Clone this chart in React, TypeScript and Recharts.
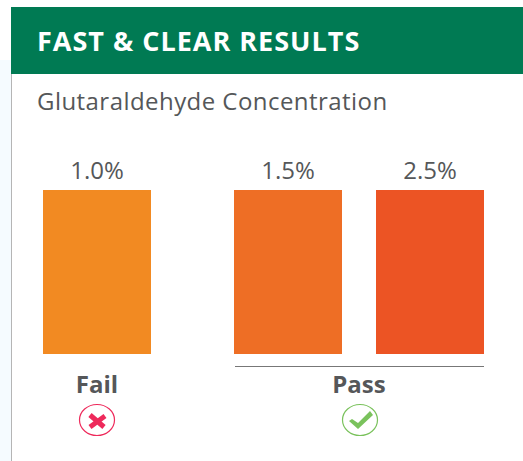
import React from 'react';
import { BarChart, Bar, Cell, LabelList, XAxis, YAxis } from 'recharts';

const failLevels = ['1.0%'];
const failValues = [100];
const failColors = ['#f28a22'];

const passLevels = ['1.5%', '2.5%'];
const passValues = [100, 100];
const passColors = ['#ee6e25', '#ec5424'];

const FONT = '"Open Sans", sans-serif';
const TEXT = '#555759';

const toRows = (levels: string[], values: number[]) =>
  levels.map((level, i) => ({ level, value: values[i] }));

interface GroupProps {
  levels: string[];
  values: number[];
  colors: string[];
  name: string;
  left: number;
  width: number;
}

const Group: React.FC<GroupProps> = ({ levels, values, colors, name, left, width }) => (
  <div style={{ position: 'absolute', left, top: 150 }}>
    <BarChart
      width={width}
      height={260}
      data={toRows(levels, values)}
      margin={{ top: 40, right: 0, bottom: 0, left: 0 }}
      barCategoryGap={0}
    >
      <YAxis hide domain={[0, 100]} />
      <XAxis
        dataKey="level"
        height={56}
        axisLine={false}
        tickLine={false}
        tick={false}
        label={{
          value: name,
          position: 'insideTop',
          offset: 22,
          fill: TEXT,
          fontSize: 24,
          fontWeight: 700,
          fontFamily: FONT,
        }}
      />
      <Bar dataKey="value" barSize={108} isAnimationActive={false}>
        {colors.map((c) => (
          <Cell key={c} fill={c} />
        ))}
        <LabelList
          dataKey="level"
          position="top"
          offset={11}
          fill={TEXT}
          fontSize={24}
          fontFamily={FONT}
        />
      </Bar>
    </BarChart>
  </div>
);

const FailIcon = () => (
  <svg width={40} height={36} style={{ position: 'absolute', left: 77, top: 402 }}>
    <ellipse cx={20} cy={18} rx={17.5} ry={15.5} fill="#fff" stroke="#ee2a5b" strokeWidth={1.2} />
    <path d="M13 13 L27 25 M28 14 L13 25" stroke="#ee2a5b" strokeWidth={5} fill="none" />
  </svg>
);

const PassIcon = () => (
  <svg width={40} height={36} style={{ position: 'absolute', left: 340, top: 402 }}>
    <ellipse cx={20} cy={18} rx={17.5} ry={15.5} fill="#fff" stroke="#7ac25c" strokeWidth={1.2} />
    <path d="M9 19 L12 17 L18 21 L30 9 L33 13 L18 27 Z" fill="#7ac25c" />
  </svg>
);

export default function App() {
  return (
    <div
      style={{
        position: 'absolute',
        left: 0,
        top: 0,
        width: 523,
        height: 461,
        overflow: 'hidden',
        background: '#fff',
        fontFamily: FONT,
      }}
    >
      <div style={{ position: 'absolute', left: 0, top: 60, width: 11, height: 401, background: '#f5fbff' }} />
      <div style={{ position: 'absolute', left: 11, top: 74, width: 1, height: 387, background: '#b5b5b5' }} />
      <div
        style={{
          position: 'absolute',
          left: 11,
          top: 7,
          width: 512,
          height: 67,
          background: '#007a53',
          color: '#fff',
          fontSize: 27,
          fontWeight: 700,
          letterSpacing: 1,
          lineHeight: '67px',
          paddingLeft: 26,
          boxSizing: 'border-box',
        }}
      >
        FAST &amp; CLEAR RESULTS
      </div>
      <div style={{ position: 'absolute', left: 37, top: 86, fontSize: 24, letterSpacing: 0.45, lineHeight: '30px', color: TEXT }}>
        Glutaraldehyde Concentration
      </div>
      <Group levels={failLevels} values={failValues} colors={failColors} name="Fail" left={0} width={194} />
      <Group levels={passLevels} values={passValues} colors={passColors} name="Pass" left={217} width={284} />
      <div style={{ position: 'absolute', left: 235, top: 366, width: 249, height: 1, background: '#777' }} />
      <FailIcon />
      <PassIcon />
    </div>
  );
}
